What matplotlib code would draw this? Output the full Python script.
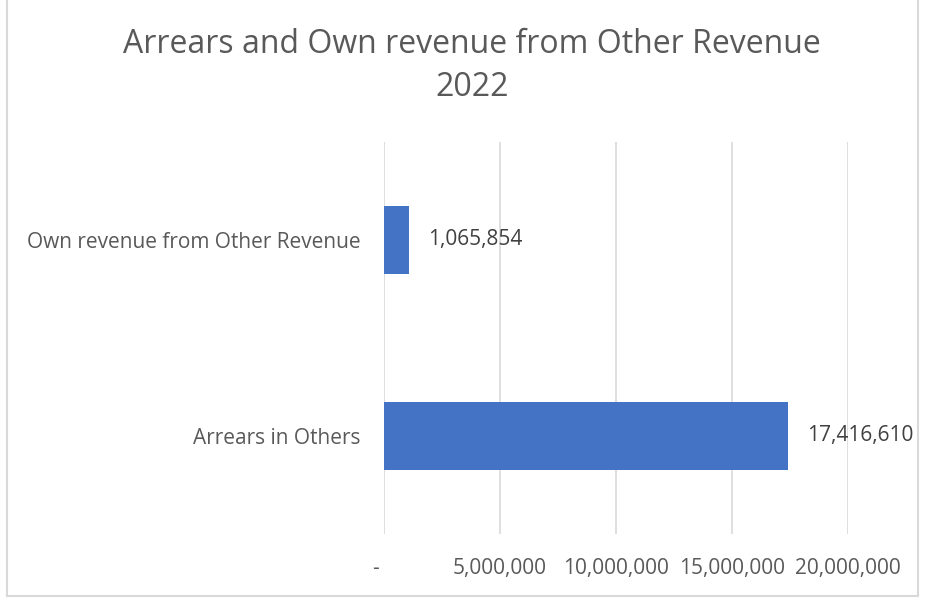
import matplotlib
matplotlib.use("Agg")
import matplotlib.pyplot as plt
from matplotlib.lines import Line2D
from matplotlib.ticker import FuncFormatter

categories = ["Arrears in Others", "Own revenue from Other Revenue"]
values = [17416610, 1065854]
xticks = [0, 5000000, 10000000, 15000000, 20000000]
title = "Arrears and Own revenue from Other Revenue\n2022"

plt.rcParams['font.family'] = ['Open Sans', 'DejaVu Sans']

W, H = 925, 600
fig = plt.figure(figsize=(W / 100, H / 100), dpi=100)
ax = fig.add_axes([384 / W, 1 - 534 / H, (848 - 384) / W, (534 - 142) / H])

bar_color = "#4472C4"
ypos = list(range(len(categories)))
ax.barh(ypos, values, height=0.35, color=bar_color, zorder=3)

ax.set_xlim(0, 20000000)
ax.set_ylim(-0.5, 1.5)
ax.set_xticks(xticks)
ax.xaxis.set_major_formatter(FuncFormatter(lambda v, p: "-   " if v == 0 else f"{int(v):,}"))
ax.set_yticks(ypos)
ax.set_yticklabels(categories)
ax.grid(axis="x", color="#D9D9D9", linewidth=1.2, zorder=0)
for s in ax.spines.values():
    s.set_visible(False)
ax.tick_params(axis="x", length=0, pad=17.5, labelsize=15, labelcolor="#595959")
ax.tick_params(axis="y", length=0, pad=17, labelsize=15, labelcolor="#595959")

for y, v in zip(ypos, values):
    ax.annotate(f"{v:,}", xy=(v, y), xytext=(14, 0), textcoords="offset points",
                va="center", ha="left", fontsize=15, color="#404040")

fig.text(472 / W, 1 - 66 / H, title, ha="center", va="center", fontsize=23,
         color="#595959", linespacing=1.4)

# chart border
bc = "#D9D9D9"
fig.add_artist(Line2D([7 / W, 7 / W], [1 - 596 / H, 1], transform=fig.transFigure, color=bc, lw=1.5))
fig.add_artist(Line2D([7 / W, 918 / W], [1 - 596 / H, 1 - 596 / H], transform=fig.transFigure, color=bc, lw=1.5))
fig.add_artist(Line2D([918 / W, 918 / W], [1 - 596 / H, 1], transform=fig.transFigure, color=bc, lw=1.5))

fig.savefig("out.png", dpi=100, facecolor="white")
